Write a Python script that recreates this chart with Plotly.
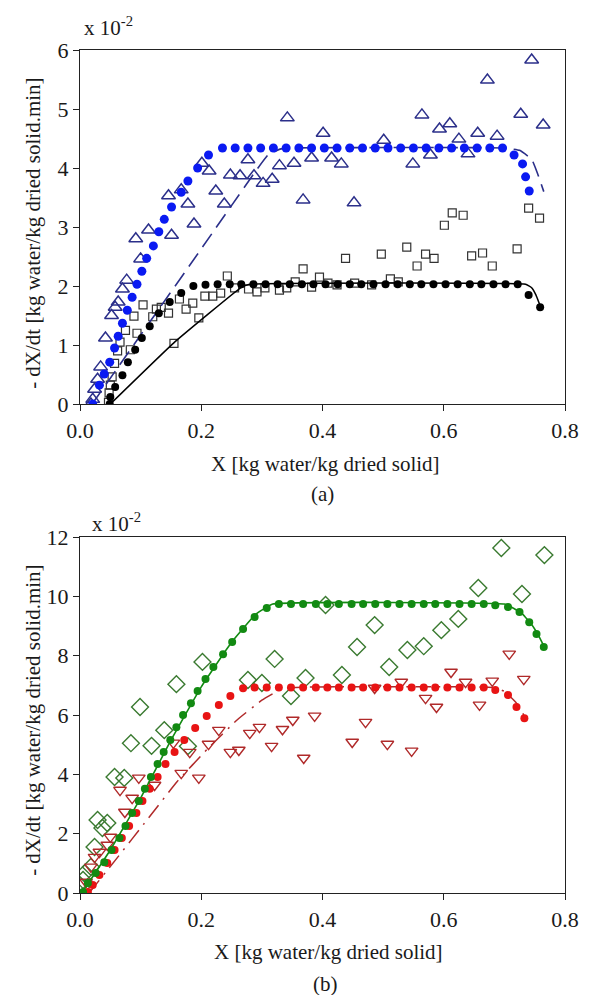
import plotly.graph_objects as go

# ---------------- Panel (a) data ----------------
a_blue_dot_x = [0.021, 0.032, 0.040, 0.049, 0.057, 0.063, 0.070, 0.078, 0.086, 0.094, 0.102, 0.110,
                0.121, 0.130, 0.139, 0.151, 0.167, 0.178, 0.194, 0.212,
                0.235, 0.256, 0.277, 0.298, 0.319, 0.340, 0.361, 0.382, 0.403, 0.424, 0.445, 0.466,
                0.487, 0.508, 0.529, 0.550, 0.571, 0.592, 0.613, 0.634, 0.655, 0.676, 0.697,
                0.716, 0.730, 0.735, 0.741]
a_blue_dot_y = [0.00, 0.32, 0.51, 0.71, 0.95, 1.15, 1.37, 1.59, 1.81, 2.03, 2.25, 2.47,
                2.68, 2.92, 3.13, 3.34, 3.59, 3.78, 4.00, 4.22,
                4.34, 4.34, 4.34, 4.34, 4.34, 4.34, 4.34, 4.34, 4.34, 4.34, 4.34, 4.34,
                4.34, 4.34, 4.34, 4.34, 4.34, 4.34, 4.34, 4.34, 4.34, 4.34, 4.34,
                4.22, 4.07, 3.85, 3.61]

a_blue_tri_x = [0.018, 0.021, 0.024, 0.029, 0.034, 0.042, 0.052, 0.058, 0.063, 0.070, 0.077, 0.092,
                0.100, 0.113, 0.146, 0.151, 0.167, 0.178, 0.188, 0.201, 0.213, 0.224, 0.238, 0.248,
                0.264, 0.277, 0.287, 0.302, 0.317, 0.329, 0.342, 0.353, 0.368, 0.382, 0.401, 0.415,
                0.431, 0.452, 0.501, 0.549, 0.564, 0.578, 0.593, 0.610, 0.625, 0.640, 0.656, 0.672,
                0.688, 0.727, 0.745, 0.764]
a_blue_tri_y = [0.00, 0.08, 0.25, 0.42, 0.63, 1.12, 1.50, 1.64, 1.73, 1.95, 2.10, 2.80,
                2.46, 2.95, 3.53, 2.86, 3.63, 3.39, 3.05, 4.08, 3.95, 3.61, 3.39, 3.88,
                3.87, 4.14, 3.87, 3.74, 3.81, 4.04, 4.85, 4.08, 3.46, 4.17, 4.59, 4.17,
                4.07, 3.41, 4.47, 4.07, 4.90, 4.22, 4.66, 4.75, 4.49, 4.24, 4.59, 5.49,
                4.54, 4.91, 5.83, 4.73]

a_blue_model_x = [0.020, 0.100, 0.200, 0.290, 0.310, 0.330, 0.350, 0.700, 0.725, 0.745, 0.755, 0.765]
a_blue_model_y = [0.00, 1.17, 2.63, 3.95, 4.22, 4.32, 4.34, 4.34, 4.30, 4.15, 3.90, 3.60]

a_black_dot_x = [0.049, 0.050, 0.058, 0.070, 0.079, 0.091, 0.102, 0.115, 0.130, 0.148, 0.167, 0.187,
                 0.207, 0.227, 0.247, 0.266, 0.286, 0.306, 0.326, 0.346, 0.366, 0.385, 0.405, 0.425,
                 0.445, 0.464, 0.484, 0.504, 0.524, 0.544, 0.563, 0.583, 0.603, 0.623, 0.643, 0.662,
                 0.682, 0.702, 0.722, 0.740, 0.759]
a_black_dot_y = [0.00, 0.12, 0.29, 0.49, 0.71, 0.92, 1.12, 1.32, 1.54, 1.73, 1.88, 2.00,
                 2.02, 2.03, 2.03, 2.03, 2.03, 2.03, 2.03, 2.03, 2.03, 2.03, 2.03, 2.03,
                 2.03, 2.03, 2.03, 2.03, 2.03, 2.03, 2.03, 2.03, 2.03, 2.03, 2.03, 2.03,
                 2.03, 2.03, 2.03, 1.85, 1.64]

a_square_x = [0.047, 0.048, 0.050, 0.053, 0.057, 0.062, 0.066, 0.075, 0.083, 0.089, 0.094, 0.104,
              0.120, 0.126, 0.134, 0.146, 0.155, 0.164, 0.175, 0.186, 0.196, 0.206, 0.219, 0.232,
              0.243, 0.255, 0.278, 0.292, 0.305, 0.329, 0.341, 0.355, 0.368, 0.382, 0.395, 0.409,
              0.424, 0.438, 0.453, 0.481, 0.497, 0.512, 0.525, 0.539, 0.556, 0.570, 0.584, 0.601,
              0.614, 0.632, 0.646, 0.664, 0.680, 0.721, 0.740, 0.758]
a_square_y = [0.03, 0.19, 0.32, 0.46, 0.69, 0.90, 1.05, 1.25, 0.92, 1.49, 1.20, 1.68,
              1.48, 1.61, 1.64, 1.54, 1.03, 1.78, 1.61, 1.71, 1.46, 1.83, 1.83, 1.88,
              2.17, 1.97, 1.95, 1.90, 1.97, 1.93, 1.97, 2.07, 2.29, 1.98, 2.15, 2.05,
              2.02, 2.47, 2.05, 2.02, 2.54, 2.12, 2.07, 2.66, 2.34, 2.54, 2.47, 3.03,
              3.24, 3.20, 2.51, 2.56, 2.34, 2.63, 3.32, 3.15]

a_black_model_x = [0.050, 0.156, 0.265, 0.280, 0.735, 0.745, 0.752, 0.757, 0.760]
a_black_model_y = [0.00, 1.05, 1.97, 2.03, 2.03, 1.97, 1.85, 1.72, 1.64]

# ---------------- Panel (b) data ----------------
b_green_dot_x = [0.005, 0.013, 0.026, 0.040, 0.052, 0.065, 0.075, 0.086, 0.097, 0.107, 0.117, 0.128,
                 0.138, 0.149, 0.159, 0.170, 0.183, 0.194, 0.207, 0.220, 0.236, 0.251, 0.269, 0.288,
                 0.308, 0.328, 0.348, 0.368, 0.389, 0.408, 0.427, 0.448, 0.467, 0.487, 0.507, 0.527,
                 0.547, 0.567, 0.586, 0.606, 0.626, 0.646, 0.666, 0.685, 0.706, 0.725, 0.741, 0.753,
                 0.765]
b_green_dot_y = [0.03, 0.34, 0.67, 1.04, 1.45, 1.85, 2.26, 2.70, 3.10, 3.51, 3.91, 4.35,
                 4.75, 5.16, 5.59, 6.00, 6.40, 6.81, 7.21, 7.62, 8.05, 8.46, 8.90, 9.30,
                 9.61, 9.74, 9.74, 9.74, 9.74, 9.74, 9.74, 9.74, 9.74, 9.74, 9.74, 9.74,
                 9.74, 9.74, 9.74, 9.74, 9.74, 9.74, 9.74, 9.70, 9.64, 9.47, 9.13, 8.73,
                 8.29]

b_diamond_x = [0.002, 0.005, 0.008, 0.018, 0.024, 0.029, 0.037, 0.045, 0.057, 0.073, 0.084, 0.099,
               0.118, 0.139, 0.159, 0.178, 0.202, 0.277, 0.300, 0.321, 0.348, 0.372, 0.405, 0.432,
               0.457, 0.486, 0.510, 0.540, 0.567, 0.596, 0.624, 0.657, 0.695, 0.729, 0.766]
b_diamond_y = [0.20, 0.44, 0.67, 0.88, 1.55, 2.46, 2.19, 2.36, 3.91, 3.88, 5.05, 6.27,
               4.96, 5.49, 7.04, 4.95, 7.79, 7.18, 7.08, 7.89, 6.64, 7.25, 9.71, 7.35,
               8.29, 9.03, 7.62, 8.19, 8.32, 8.86, 9.24, 10.28, 11.63, 10.08, 11.39]

b_green_model_x = [0.003, 0.050, 0.100, 0.150, 0.200, 0.250, 0.290, 0.318, 0.700, 0.715, 0.730, 0.745, 0.757, 0.766]
b_green_model_y = [0.00, 1.45, 3.20, 5.15, 6.95, 8.45, 9.40, 9.74, 9.74, 9.60, 9.40, 9.05, 8.65, 8.29]

b_red_dot_x = [0.013, 0.021, 0.032, 0.045, 0.057, 0.069, 0.081, 0.093, 0.103, 0.115, 0.128, 0.141,
               0.156, 0.172, 0.190, 0.209, 0.229, 0.248, 0.269, 0.288, 0.308, 0.328, 0.348, 0.368,
               0.389, 0.408, 0.427, 0.448, 0.467, 0.487, 0.507, 0.527, 0.547, 0.567, 0.586, 0.606,
               0.626, 0.646, 0.666, 0.685, 0.706, 0.720, 0.733]
b_red_dot_y = [0.03, 0.27, 0.61, 1.01, 1.45, 1.85, 2.26, 2.70, 3.10, 3.51, 3.91, 4.35,
               4.75, 5.16, 5.56, 5.97, 6.34, 6.64, 6.90, 6.93, 6.93, 6.93, 6.93, 6.93,
               6.93, 6.93, 6.93, 6.93, 6.93, 6.93, 6.93, 6.93, 6.93, 6.93, 6.93, 6.93,
               6.93, 6.93, 6.93, 6.84, 6.67, 6.27, 5.89]

b_red_tri_x = [0.010, 0.018, 0.024, 0.032, 0.045, 0.050, 0.074, 0.066, 0.086, 0.097, 0.123, 0.154,
               0.167, 0.181, 0.196, 0.212, 0.229, 0.248, 0.262, 0.280, 0.296, 0.316, 0.334, 0.351,
               0.369, 0.387, 0.449, 0.471, 0.486, 0.507, 0.530, 0.547, 0.570, 0.588, 0.612, 0.636,
               0.659, 0.680, 0.708, 0.732]
b_red_tri_y = [0.37, 0.88, 1.21, 1.38, 1.62, 1.89, 2.73, 3.47, 3.20, 3.88, 3.64, 5.06,
               4.04, 4.75, 3.88, 5.02, 5.49, 4.75, 4.82, 5.39, 5.59, 4.95, 5.52, 5.83,
               4.55, 5.97, 5.09, 5.76, 6.91, 5.02, 7.11, 4.79, 6.57, 6.27, 7.45, 7.11,
               6.34, 7.15, 8.06, 7.21]

b_red_model_x = [0.015, 0.060, 0.110, 0.160, 0.210, 0.260, 0.300, 0.330, 0.350, 0.680, 0.700, 0.720, 0.735]
b_red_model_y = [0.00, 1.15, 2.45, 3.75, 4.85, 5.85, 6.50, 6.85, 6.93, 6.93, 6.80, 6.40, 5.90]

x_ticks = [0.0, 0.2, 0.4, 0.6, 0.8]
a_y_ticks = [0, 1, 2, 3, 4, 5, 6]
b_y_ticks = [0, 2, 4, 6, 8, 10, 12]

# ---------------- styles ----------------
FONT = "'Liberation Serif', 'Times New Roman', Times, Tinos, serif"
BLUE = "#0a1af2"
NAVY = "#2b2f8a"
BLACK = "#000000"
GREEN = "#128a12"
DGREEN = "#3a7a30"
RED = "#e81414"
DRED = "#b02a2a"

fig = go.Figure()

def add(x, y, xa, ya, mode, marker=None, line=None):
    kw = dict(x=x, y=y, mode=mode, xaxis=xa, yaxis=ya, showlegend=False, hoverinfo="skip")
    if marker is not None:
        kw["marker"] = marker
    if line is not None:
        kw["line"] = line
    fig.add_trace(go.Scatter(**kw))

# panel (a)
add(a_square_x, a_square_y, "x", "y", "markers",
    marker=dict(symbol="square-open", size=8, color="#333333", line=dict(width=1.2)))
add(a_blue_tri_x, a_blue_tri_y, "x", "y", "markers",
    marker=dict(symbol="triangle-up-open", size=12, color=NAVY, line=dict(width=1.5)))
add(a_black_model_x, a_black_model_y, "x", "y", "lines",
    line=dict(color=BLACK, width=1.5, shape="spline", smoothing=0.3))
add(a_blue_model_x, a_blue_model_y, "x", "y", "lines",
    line=dict(color=NAVY, width=1.6, dash="16px,8px", shape="spline", smoothing=0.3))
add(a_black_dot_x, a_black_dot_y, "x", "y", "markers",
    marker=dict(symbol="circle", size=8, color=BLACK))
add(a_blue_dot_x, a_blue_dot_y, "x", "y", "markers",
    marker=dict(symbol="circle", size=9, color=BLUE))

# panel (b)
add(b_diamond_x, b_diamond_y, "x2", "y2", "markers",
    marker=dict(symbol="diamond-open", size=13, color=DGREEN, line=dict(width=1.4)))
add(b_red_tri_x, b_red_tri_y, "x2", "y2", "markers",
    marker=dict(symbol="triangle-down-open", size=11, color=DRED, line=dict(width=1.4)))
add(b_red_model_x, b_red_model_y, "x2", "y2", "lines",
    line=dict(color=DRED, width=1.5, dash="16px,7px,2px,7px", shape="spline", smoothing=0.3))
add(b_green_model_x, b_green_model_y, "x2", "y2", "lines",
    line=dict(color=GREEN, width=1.6, shape="spline", smoothing=0.3))
add(b_red_dot_x, b_red_dot_y, "x2", "y2", "markers",
    marker=dict(symbol="circle", size=8, color=RED))
add(b_green_dot_x, b_green_dot_y, "x2", "y2", "markers",
    marker=dict(symbol="circle", size=8, color=GREEN))

axis_common = dict(showline=True, linecolor="#222222", linewidth=1.2, mirror=True,
                   ticks="outside", ticklen=6, tickwidth=1.2, tickcolor="#222222",
                   showgrid=False, zeroline=False,
                   tickfont=dict(family=FONT, size=22, color="#1a1a1a"))

fig.update_layout(
    width=591, height=995,
    margin=dict(l=80, r=17, t=50, b=102),
    paper_bgcolor="white", plot_bgcolor="white",
    font=dict(family=FONT),
    xaxis=dict(domain=[0, 1], anchor="y", range=[0, 0.8], tickvals=x_ticks,
               ticktext=[f"{v:.1f}" for v in x_ticks], **axis_common),
    yaxis=dict(domain=[0.58, 1], anchor="x", range=[0, 6], tickvals=a_y_ticks, **axis_common),
    xaxis2=dict(domain=[0, 1], anchor="y2", range=[0, 0.8], tickvals=x_ticks,
                ticktext=[f"{v:.1f}" for v in x_ticks], **axis_common),
    yaxis2=dict(domain=[0, 0.4223], anchor="x2", range=[0, 12], tickvals=b_y_ticks, **axis_common),
)

tf = dict(family=FONT, size=21, color="#1a1a1a")
ann = [
    dict(text="x 10<sup>-2</sup>", x=82, y=995 - 27, xanchor="left", yanchor="middle"),
    dict(text="x 10<sup>-2</sup>", x=90, y=995 - 522, xanchor="left", yanchor="middle"),
    dict(text="X [kg water/kg dried solid]", x=330, y=995 - 464, xanchor="center", yanchor="middle"),
    dict(text="(a)", x=327, y=995 - 494, xanchor="center", yanchor="middle"),
    dict(text="X [kg water/kg dried solid]", x=333, y=995 - 952, xanchor="center", yanchor="middle"),
    dict(text="(b)", x=330, y=995 - 984, xanchor="center", yanchor="middle"),
    dict(text="- dX/dt [kg water/kg dried solid.min]", x=32, y=995 - 233, textangle=-90,
         xanchor="center", yanchor="middle"),
    dict(text="- dX/dt [kg water/kg dried solid.min]", x=32, y=995 - 720, textangle=-90,
         xanchor="center", yanchor="middle"),
]
annotations = []
for a in ann:
    a2 = dict(a)
    # convert pixel positions into paper coordinates
    a2["x"] = (a["x"] - 80) / 494
    a2["y"] = (a["y"] - 102) / 843
    a2.update(xref="paper", yref="paper", showarrow=False, font=tf)
    annotations.append(a2)
fig.update_layout(annotations=annotations)

fig.write_html("out.html")
